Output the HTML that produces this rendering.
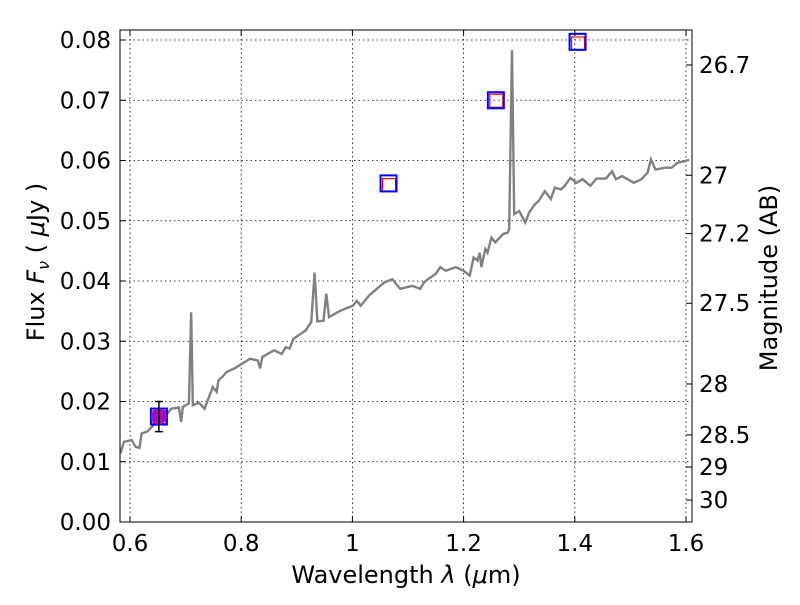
<!DOCTYPE html>
<html><head><meta charset="utf-8"><style>
body{margin:0;background:#fff;}
svg text{font-family:"DejaVu Sans","Liberation Sans",sans-serif;fill:#000;}
</style></head><body>
<svg id="chart" width="800" height="600" xmlns="http://www.w3.org/2000/svg">
<rect width="800" height="600" fill="#fff"/>
<g id="grid"></g>
<g id="spec"></g>
<g id="phot"></g>
<rect x="120" y="30" width="572" height="492" fill="none" stroke="#000" stroke-width="1"/>
<g id="ticks"></g>
<text x="406" y="583" font-size="24" text-anchor="middle">Wavelength  <tspan font-style="italic">λ</tspan> (<tspan font-style="italic">μ</tspan>m)</text>
<text transform="translate(44,262) rotate(-90)" font-size="24" text-anchor="middle">Flux  <tspan font-style="italic">F</tspan><tspan font-style="italic" font-size="16" dy="5">ν</tspan><tspan dy="-5">  ( </tspan><tspan font-style="italic">μ</tspan>Jy )</text>
<text transform="translate(777,278) rotate(-90)" font-size="24" text-anchor="middle">Magnitude (AB)</text>
</svg>
<script>
const wavelength=[0.583,0.589,0.603,0.610,0.617,0.621,0.631,0.646,0.663,0.674,0.688,0.692,0.695,0.706,0.710,0.713,0.724,0.734,0.749,0.756,0.759,0.766,0.774,0.788,0.802,0.816,0.830,0.834,0.838,0.859,0.873,0.880,0.887,0.894,0.916,0.926,0.932,0.937,0.948,0.953,0.958,0.973,0.987,1.001,1.008,1.015,1.030,1.044,1.058,1.072,1.086,1.108,1.122,1.129,1.136,1.150,1.158,1.168,1.186,1.200,1.211,1.218,1.225,1.229,1.232,1.239,1.243,1.250,1.257,1.271,1.279,1.282,1.287,1.291,1.300,1.311,1.318,1.328,1.335,1.346,1.357,1.364,1.375,1.382,1.392,1.403,1.414,1.428,1.439,1.456,1.467,1.474,1.485,1.506,1.520,1.531,1.537,1.545,1.563,1.574,1.584,1.606];
const flux=[.0114,.0133,.0136,.0125,.0123,.0147,.0150,.0164,.0175,.0188,.0190,.0166,.0191,.0197,.0348,.0194,.0198,.0188,.0224,.0216,.0235,.0241,.0249,.0255,.0263,.0271,.0268,.0255,.0274,.0285,.0279,.0290,.0288,.0304,.0318,.0332,.0414,.0333,.0334,.0379,.0340,.0348,.0354,.0359,.0367,.0359,.0376,.0387,.0398,.0403,.0387,.0392,.0387,.0398,.0403,.0412,.0423,.0417,.0423,.0417,.0409,.0439,.0434,.0447,.0423,.0453,.0447,.0472,.0464,.0478,.0480,.0486,.0783,.0511,.0516,.0497,.0514,.0527,.0533,.0549,.0536,.0555,.0552,.0558,.0571,.0563,.0569,.0558,.0570,.0570,.0582,.0569,.0574,.0563,.0569,.0580,.0602,.0585,.0588,.0588,.0596,.0601];
const photWl=[0.652,1.065,1.258,1.405];
const photFlux=[0.0175,0.0562,0.0700,0.0797];
const modelFlux=[0.0175,0.0560,0.0700,0.0795];
const obsWl=[0.652];
const obsFlux=[0.0175];
const obsErr=[0.0025];
const xTicks=[0.6,0.8,1.0,1.2,1.4,1.6];
const xTickLabels=["0.6","0.8","1","1.2","1.4","1.6"];
const yTicks=[0,0.01,0.02,0.03,0.04,0.05,0.06,0.07,0.08];
const yTickLabels=["0.00","0.01","0.02","0.03","0.04","0.05","0.06","0.07","0.08"];
const magTicks=[26.7,27,27.2,27.5,28,28.5,29,30];
const magTickLabels=["26.7","27","27.2","27.5","28","28.5","29","30"];

const NS="http://www.w3.org/2000/svg";
const X=w=>130+(w-0.6)*556;
const Y=f=>522-f*6025;
const magToFlux=m=>Math.pow(10,(23.9-m)/2.5);
function mk(tag,attrs,parent){const e=document.createElementNS(NS,tag);for(const k in attrs)e.setAttribute(k,attrs[k]);parent.appendChild(e);return e;}
const grid=document.getElementById('grid'),ticks=document.getElementById('ticks'),spec=document.getElementById('spec'),phot=document.getElementById('phot');
xTicks.forEach((v,i)=>{
  const gl=mk('line',{x1:X(v),x2:X(v),y1:30,y2:522,stroke:'#000','stroke-width':0.8,'stroke-dasharray':'1.5,3'},grid);
  
  
  mk('line',{x1:X(v),x2:X(v),y1:522,y2:516,stroke:'#000'},ticks);
  mk('line',{x1:X(v),x2:X(v),y1:30,y2:36,stroke:'#000'},ticks);
  const t=mk('text',{x:X(v),y:551,'font-size':23,'text-anchor':'middle'},ticks);
  t.textContent=xTickLabels[i];
  
  
});
yTicks.forEach((v,i)=>{
  const gl=mk('line',{x1:120,x2:692,y1:Y(v),y2:Y(v),stroke:'#000','stroke-width':0.8,'stroke-dasharray':'1.5,3'},grid);
  
  
  mk('line',{x1:120,x2:126,y1:Y(v),y2:Y(v),stroke:'#000'},ticks);
  const t=mk('text',{x:111,y:Y(v)+8,'font-size':23,'text-anchor':'end'},ticks);
  t.textContent=yTickLabels[i];
  
  
});
magTicks.forEach((m,i)=>{
  const y=Y(magToFlux(m));
  mk('line',{x1:686,x2:692,y1:y,y2:y,stroke:'#000'},ticks);
  const t=mk('text',{x:699,y:y+8,'font-size':23},ticks);
  t.textContent=magTickLabels[i];
  
  
});
const pl=mk('polyline',{points:wavelength.map((w,i)=>X(w)+','+Y(flux[i])).join(' '),fill:'none',stroke:'#808080','stroke-width':2.4},spec);


photWl.forEach((w,i)=>{
  const r=mk('rect',{x:X(w)-6,y:Y(modelFlux[i])-6,width:13,height:13,fill:'none',stroke:'#ff0000','stroke-width':1.2},phot);
  
  
  const b=mk('rect',{x:X(w)-8,y:Y(photFlux[i])-8,width:16,height:16,fill:'none',stroke:'#0000ff','stroke-width':2},phot);
  
  
});
obsWl.forEach((w,i)=>{
  const x=X(w);
  const c=mk('circle',{cx:x,cy:Y(obsFlux[i]),r:8,fill:'#a010c0'},phot);
  
  
  const y1=Y(obsFlux[i]-obsErr[i]),y2=Y(obsFlux[i]+obsErr[i]);
  const eb=mk('path',{d:`M${x},${y1}V${y2}M${x-4},${y1}H${x+4}M${x-4},${y2}H${x+4}`,stroke:'#000','stroke-width':1.5,fill:'none'},phot);
  
  
});
</script>
</body></html>
